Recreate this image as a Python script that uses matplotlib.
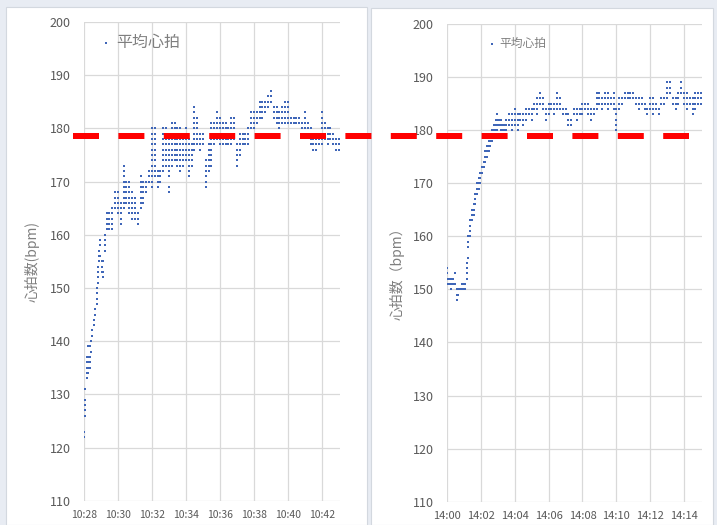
import matplotlib
matplotlib.use("Agg")
import matplotlib.pyplot as plt
from matplotlib.lines import Line2D
from matplotlib.patches import Rectangle
from matplotlib.transforms import blended_transform_factory

plt.rcParams['font.family'] = ['Noto Sans CJK JP', 'DejaVu Sans']

# ---------------- data ----------------
series_label = "平均心拍"
y_label_left = "心拍数(bpm)"
y_label_right = "心拍数（bpm）"
y_ticks = [110, 120, 130, 140, 150, 160, 170, 180, 190, 200]
threshold_bpm = 178.5

left_start = "10:28"
left_xticklabels = ["10:28", "10:30", "10:32", "10:34", "10:36", "10:38", "10:40", "10:42"]
right_start = "14:00"
right_xticklabels = ["14:00", "14:02", "14:04", "14:06", "14:08", "14:10", "14:12", "14:14"]

# seconds after start time, and the bpm values recorded at that moment
left_seconds = [0, 5, 10, 15, 20, 25, 30, 35, 40, 45, 48, 52, 56, 62, 68, 74,
                80, 90, 100, 110, 120, 130, 140, 150, 160, 170, 180, 190, 200,
                210, 220, 230, 240, 250, 260, 270, 280, 290, 300, 310, 320, 330,
                340, 350, 360, 370, 380, 390, 400, 410, 420, 430, 440, 450, 460,
                470, 480, 490, 500, 510, 520, 530, 540, 550, 560, 570, 580, 590,
                600, 610, 620, 630, 640, 650, 660, 670, 680, 690, 700, 710, 720,
                730, 740, 750, 760, 770, 780, 790, 800, 810, 820, 830, 840, 850,
                860, 870, 880, 890, 900]
left_bpm = [
    [122, 123], [126, 127, 128, 129, 131], [133, 134, 135, 136, 137],
    [134, 135, 136, 137, 139], [135, 136, 137, 139], [138, 140], [141, 142],
    [143, 144], [145, 146], [147, 148, 149, 150], [151, 152, 153, 154],
    [155, 156, 157], [156, 158, 159], [153, 154, 155], [152, 153, 155],
    [157, 158, 159, 160],
    [161, 162, 163, 164], [161, 162, 163, 164], [161, 162, 163, 164, 165],
    [165, 166, 167, 168], [164, 165, 166, 167, 168], [162, 163, 164, 165, 166],
    [165, 166, 167, 168, 169, 170, 171, 172, 173], [166, 167, 168, 169, 170],
    [164, 165, 166, 167, 168, 169, 170], [163, 164, 165, 166, 167, 168],
    [163, 164, 165, 166, 167], [162, 163, 164],
    [165, 166, 167, 168, 169, 170, 171], [166, 167, 168, 169, 170],
    [168, 169, 170], [170, 171, 172],
    [169, 170, 171, 172, 173, 174, 175, 176, 177, 178, 179, 180],
    [171, 172, 173, 174, 175, 176, 177, 178, 179, 180],
    [169, 170, 171, 172], [170, 171, 172],
    [172, 173, 174, 175, 176, 177, 178, 179, 180],
    [173, 174, 175, 176, 177, 178, 179, 180],
    [168, 169, 171, 172, 173, 174, 175, 176, 177, 178],
    [173, 174, 175, 176, 177, 178, 179, 180, 181],
    [174, 175, 176, 177, 178, 179, 180, 181],
    [173, 174, 175, 176, 177, 178, 179, 180],
    [172, 173, 174, 175, 176, 177, 178, 179, 180],
    [173, 174, 175, 176, 177, 178, 179],
    [174, 175, 176, 177, 178, 179, 180],
    [171, 172, 173, 174, 175, 176, 177, 178],
    [173, 174, 175, 176, 177],
    [176, 177, 178, 179, 180, 181, 182, 183, 184],
    [177, 178, 179, 180, 181, 182], [176, 177, 178, 179], [177, 178, 179],
    [169, 170, 171, 172, 173, 174], [172, 173, 174, 175, 176, 177],
    [173, 174, 175, 176, 177, 178, 179, 180, 181], [177, 178, 179, 180, 181],
    [178, 179, 180, 181, 182, 183], [177, 178, 179, 180, 181, 182],
    [177, 178, 179, 180, 181], [177, 178, 179, 180, 181], [177, 178, 179, 180],
    [177, 178, 179, 180, 181, 182], [178, 179, 180, 181, 182],
    [173, 174, 175, 176, 177], [175, 176, 177, 178, 179], [177, 178, 179],
    [177, 178, 179], [177, 178, 179, 180], [180, 181, 182, 183],
    [180, 181, 182, 183], [181, 182, 183], [182, 183, 184, 185],
    [182, 183, 184, 185], [183, 184, 185], [184, 185, 186], [185, 186, 187],
    [182, 183, 184], [181, 182, 183, 184], [180, 181, 182, 183],
    [181, 182, 183, 184], [181, 182, 183, 184, 185], [181, 182, 183, 184, 185],
    [181, 182], [181, 182], [181, 182], [181, 182], [180, 181],
    [180, 181, 182, 183], [179, 180, 181], [177, 178, 179, 180],
    [176, 177, 178, 179], [176, 177, 178], [177, 178, 179],
    [177, 178, 179, 180, 181, 182, 183], [178, 179, 180, 181],
    [177, 178, 179, 180], [178, 179, 180], [177, 178, 179], [176, 177, 178],
    [176, 177, 178],
]

right_seconds = [0, 8, 15, 22, 28, 34, 40, 46, 52, 58, 64, 70, 76, 82, 88, 94,
                 100, 106, 112, 118, 124, 130, 136, 142, 148, 154, 160, 166, 172,
                 178, 184, 190, 196, 202, 210, 220, 230, 240, 250, 260, 270, 280,
                 290, 300, 310, 320, 330, 340, 350, 360, 370, 380, 390, 400, 410,
                 420, 430, 440, 450, 460, 470, 480, 490, 500, 510, 520, 530, 540,
                 550, 560, 570, 580, 590, 600, 610, 620, 630, 640, 650, 660, 670,
                 680, 690, 700, 710, 720, 730, 740, 750, 760, 770, 780, 790, 800,
                 810, 820, 830, 840, 850, 860, 870, 880, 890, 900]
right_bpm = [
    [151, 152, 153, 154], [151, 152], [150, 151, 152], [151, 152], [151, 153],
    [148, 149, 150], [149, 150], [150], [150, 151], [150, 151], [150, 151],
    [152, 153, 154, 155], [156, 158, 159, 160], [160, 161, 162, 163],
    [163, 164, 165], [164, 165, 166], [166, 167, 168], [168, 169, 170],
    [169, 170, 171], [170, 171, 172], [172, 173], [173, 174], [174, 175, 176],
    [175, 176, 177], [176, 177, 178], [177, 178, 179], [178, 179, 180],
    [179, 180, 181], [180, 181, 182], [180, 181, 182, 183], [181, 182],
    [180, 181, 182], [179, 180, 181], [180, 181], [180, 181, 182],
    [181, 182, 183], [180, 181, 182, 183], [181, 182, 183, 184],
    [180, 181, 182, 183], [182, 183], [181, 182, 183], [182, 183, 184],
    [183, 184], [182, 183, 184], [184, 185], [183, 184, 185, 186],
    [185, 186, 187], [184, 185, 186], [182, 183, 184], [183, 184, 185],
    [184, 185], [183, 184, 185], [184, 185, 186, 187], [184, 185, 186],
    [183, 184], [183, 184], [181, 182, 183], [181, 182], [183, 184],
    [182, 183, 184], [183, 184], [183, 184, 185], [184, 185], [183, 184, 185],
    [182, 183, 184], [183, 184], [184, 185, 186, 187], [185, 186, 187],
    [184, 185, 186], [185, 186, 187], [184, 185, 186, 187], [185, 186],
    [184, 185, 186, 187], [180, 181, 182, 183, 184], [184, 185, 186],
    [185, 186], [186, 187], [186, 187], [186, 187], [186, 187], [185, 186],
    [184, 185, 186], [185, 186], [184, 185], [183, 184], [184, 185, 186],
    [183, 184, 185, 186], [184, 185], [183, 184], [185, 186], [185, 186],
    [186, 187, 188, 189], [187, 188, 189], [185, 186], [184, 185, 186],
    [185, 186, 187], [187, 188, 189], [185, 186, 187], [184, 185, 186, 187],
    [185, 186], [183, 184, 185, 186], [184, 185, 186, 187], [185, 186, 187],
    [185, 186, 187],
]

# ---------------- helpers ----------------
def hhmm_to_min(s):
    h, m = s.split(":")
    return int(h) * 60 + int(m)


def flatten(start, seconds, values):
    xs, ys = [], []
    base = hhmm_to_min(start)
    for sec, vals in zip(seconds, values):
        for v in vals:
            xs.append(base + sec / 60.0)
            ys.append(v)
    return xs, ys


W, H = 725, 525
fig = plt.figure(figsize=(W / 100, H / 100), dpi=100)
fig.patch.set_facecolor('#e8ecf3')

# white chart cards
fig.add_artist(Rectangle((6 / W, 0), (367 - 6) / W, 1 - 7 / H, transform=fig.transFigure,
                         facecolor='white', edgecolor='#d3d8df', lw=0.8, zorder=-10))
fig.add_artist(Rectangle((371 / W, 0), (713 - 371) / W, 1 - 8 / H, transform=fig.transFigure,
                         facecolor='white', edgecolor='#d3d8df', lw=0.8, zorder=-10))
fig.add_artist(Rectangle((717 / W, 0), 8 / W, 1, transform=fig.transFigure,
                         facecolor='white', edgecolor='none', zorder=-10))

dot_color = '#3f66b8'
tick_color = '#595959'
label_color = '#7f7f7f'
grid_color = '#d9d9d9'
span = 15.06

panels = [
    dict(rect=[84 / W, (H - 500.7) / H, 256 / W, 478.7 / H], start=left_start,
         secs=left_seconds, vals=left_bpm, ticks=left_xticklabels, ylabel=y_label_left,
         xfs=7.5, legfs=11.5, leg_anchor=(0.067, 0.957), hl=0.6, htp=0.35,
         ylab_xy=(-0.203, 0.5)),
    dict(rect=[447 / W, (H - 501.7) / H, 255 / W, 477.7 / H], start=right_start,
         secs=right_seconds, vals=right_bpm, ticks=right_xticklabels, ylabel=y_label_right,
         xfs=8.0, legfs=8.5, leg_anchor=(0.163, 0.959), hl=0.6, htp=0.3,
         ylab_xy=(-0.194, 0.485)),
]

axes = []
for p in panels:
    ax = fig.add_axes(p['rect'])
    ax.set_facecolor('none')
    xs, ys = flatten(p['start'], p['secs'], p['vals'])
    sc = ax.scatter(xs, ys, s=2.6, marker='s', color=dot_color, linewidths=0, zorder=3)
    base = hhmm_to_min(p['start'])
    ax.set_xlim(base, base + span)
    ax.set_ylim(y_ticks[0], y_ticks[-1])
    ax.set_xticks([hhmm_to_min(t) for t in p['ticks']])
    ax.set_xticklabels(p['ticks'])
    ax.set_yticks(y_ticks)
    ax.set_yticklabels([str(v) for v in y_ticks])
    for s in ax.spines.values():
        s.set_visible(False)
    ax.grid(True, color=grid_color, lw=0.9, zorder=0)
    ax.set_axisbelow(True)
    ax.tick_params(axis='both', length=0, colors=tick_color)
    ax.tick_params(axis='x', labelsize=p['xfs'], pad=7)
    ax.tick_params(axis='y', labelsize=9, pad=9.5)
    ax.set_ylabel(p['ylabel'], fontsize=10, color=label_color)
    ax.yaxis.label.set_va('center')
    ax.yaxis.set_label_coords(*p['ylab_xy'])
    leg = ax.legend([sc], [series_label], loc='center left', bbox_to_anchor=p['leg_anchor'],
                    frameon=False, borderpad=0, borderaxespad=0, handlelength=p['hl'],
                    handletextpad=p['htp'], scatterpoints=1, markerscale=1.2,
                    prop={'size': p['legfs']})
    for t in leg.get_texts():
        t.set_color(label_color)
    axes.append(ax)

# red dashed threshold line spanning across both charts
lw_px = 6.0
lw_pt = lw_px * 0.72
on_pt, off_pt = 26.0 * 0.72, 19.4 * 0.72
trans = blended_transform_factory(fig.transFigure, axes[0].transData)
fig.add_artist(Line2D([73 / W, 689.2 / W], [threshold_bpm, threshold_bpm], transform=trans,
                      color='#ff0000', lw=lw_pt,
                      linestyle=(0, (on_pt / lw_pt, off_pt / lw_pt)),
                      solid_capstyle='butt', dash_capstyle='butt', zorder=10))

fig.savefig('out.png', dpi=100, facecolor=fig.get_facecolor())
